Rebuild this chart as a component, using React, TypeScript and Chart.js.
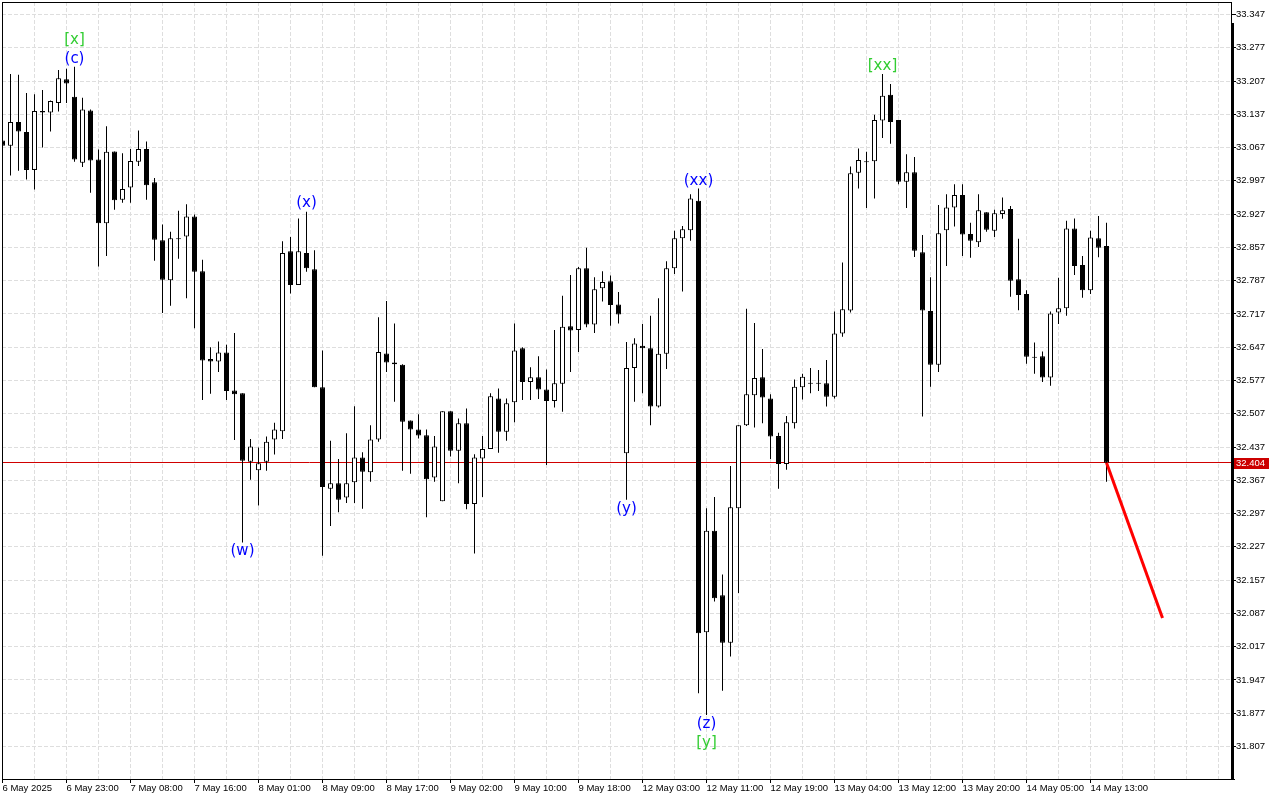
import React, { useEffect, useRef } from 'react';
import { Chart, registerables } from 'chart.js';

Chart.register(...registerables);

// ---- candle data (H1), index 0 = 6 May 2025 15:00 ----
const opens = [
  33.082, 33.071, 33.121, 33.100, 33.020, 33.144, 33.141, 33.161, 33.211, 33.174,
  33.035, 33.145, 33.042, 32.908, 33.059, 32.957, 32.983, 33.037, 33.064, 32.994,
  32.872, 32.788, 32.876, 32.880, 32.922, 32.807, 32.622, 32.617, 32.636, 32.556,
  32.550, 32.406, 32.388, 32.406, 32.453, 32.470, 32.849, 32.778, 32.845, 32.811,
  32.563, 32.349, 32.361, 32.331, 32.363, 32.415, 32.384, 32.453, 32.634, 32.611,
  32.610, 32.493, 32.474, 32.462, 32.373, 32.323, 32.512, 32.429, 32.487, 32.317,
  32.413, 32.433, 32.539, 32.469, 32.531, 32.645, 32.574, 32.584, 32.558, 32.534,
  32.570, 32.691, 32.683, 32.813, 32.695, 32.771, 32.786, 32.737, 32.424, 32.603,
  32.650, 32.645, 32.522, 32.633, 32.813, 32.876, 32.893, 32.955, 32.047, 32.261,
  32.125, 32.025, 32.308, 32.483, 32.546, 32.584, 32.539, 32.460, 32.401, 32.487,
  32.563, 32.570, 32.572, 32.571, 32.543, 32.676, 32.724, 33.014, 33.038, 33.038,
  33.124, 33.178, 33.125, 32.995, 33.015, 32.847, 32.723, 32.610, 32.893, 32.941,
  32.967, 32.885, 32.868, 32.931, 32.892, 32.927, 32.938, 32.790, 32.759, 32.627,
  32.628, 32.583, 32.720, 32.729, 32.897, 32.820, 32.767, 32.876, 32.860,
];
const highs = [
  33.089, 33.222, 33.220, 33.182, 33.179, 33.188, 33.166, 33.230, 33.233, 33.237,
  33.172, 33.147, 33.063, 33.112, 33.059, 33.055, 33.064, 33.103, 33.080, 33.003,
  32.905, 32.890, 32.934, 32.948, 32.926, 32.831, 32.647, 32.659, 32.652, 32.677,
  32.550, 32.454, 32.436, 32.459, 32.488, 32.870, 32.879, 32.918, 32.932, 32.851,
  32.640, 32.450, 32.412, 32.466, 32.523, 32.426, 32.483, 32.710, 32.744, 32.697,
  32.611, 32.493, 32.506, 32.474, 32.460, 32.512, 32.512, 32.497, 32.518, 32.422,
  32.460, 32.550, 32.560, 32.539, 32.697, 32.647, 32.605, 32.628, 32.600, 32.683,
  32.755, 32.799, 32.816, 32.856, 32.794, 32.807, 32.798, 32.763, 32.658, 32.666,
  32.696, 32.713, 32.750, 32.828, 32.892, 32.902, 32.969, 32.981, 32.308, 32.332,
  32.169, 32.397, 32.483, 32.728, 32.698, 32.643, 32.548, 32.467, 32.502, 32.579,
  32.591, 32.603, 32.599, 32.620, 32.722, 32.825, 33.027, 33.065, 33.058, 33.136,
  33.222, 33.201, 33.125, 33.053, 33.047, 32.883, 32.794, 32.946, 32.969, 32.990,
  32.990, 32.909, 32.969, 32.931, 32.936, 32.962, 32.944, 32.875, 32.767, 32.657,
  32.638, 32.722, 32.793, 32.913, 32.918, 32.839, 32.892, 32.923, 32.909,
];
const lows = [
  33.066, 33.008, 33.018, 33.000, 32.979, 33.067, 33.101, 33.143, 33.161, 33.037,
  33.026, 32.972, 32.817, 32.839, 32.936, 32.951, 32.951, 33.028, 32.957, 32.829,
  32.719, 32.734, 32.833, 32.750, 32.687, 32.536, 32.549, 32.595, 32.536, 32.452,
  32.236, 32.368, 32.314, 32.387, 32.421, 32.454, 32.760, 32.778, 32.806, 32.563,
  32.208, 32.271, 32.300, 32.319, 32.319, 32.307, 32.364, 32.448, 32.595, 32.532,
  32.387, 32.381, 32.455, 32.289, 32.364, 32.323, 32.417, 32.361, 32.306, 32.213,
  32.332, 32.433, 32.425, 32.450, 32.489, 32.536, 32.536, 32.538, 32.399, 32.520,
  32.511, 32.595, 32.637, 32.689, 32.677, 32.743, 32.692, 32.697, 32.326, 32.532,
  32.550, 32.483, 32.520, 32.601, 32.801, 32.764, 32.871, 31.919, 31.873, 32.112,
  31.924, 31.996, 32.130, 32.481, 32.478, 32.487, 32.412, 32.349, 32.389, 32.476,
  32.537, 32.550, 32.555, 32.522, 32.539, 32.669, 32.720, 32.981, 32.940, 32.960,
  33.087, 33.075, 32.990, 32.940, 32.837, 32.501, 32.564, 32.595, 32.818, 32.901,
  32.839, 32.835, 32.858, 32.890, 32.879, 32.917, 32.753, 32.725, 32.612, 32.591,
  32.574, 32.566, 32.696, 32.713, 32.799, 32.751, 32.759, 32.836, 32.364,
];
const closes = [
  33.071, 33.121, 33.101, 33.020, 33.144, 33.141, 33.165, 33.213, 33.202, 33.042,
  33.147, 33.040, 32.908, 33.058, 32.956, 32.980, 33.039, 33.064, 32.988, 32.873,
  32.789, 32.876, 32.874, 32.922, 32.806, 32.619, 32.617, 32.636, 32.555, 32.548,
  32.408, 32.438, 32.403, 32.448, 32.474, 32.845, 32.778, 32.849, 32.813, 32.563,
  32.353, 32.361, 32.326, 32.361, 32.415, 32.385, 32.453, 32.637, 32.615, 32.615,
  32.490, 32.474, 32.461, 32.369, 32.438, 32.512, 32.429, 32.487, 32.317, 32.415,
  32.433, 32.544, 32.469, 32.529, 32.640, 32.574, 32.584, 32.558, 32.534, 32.571,
  32.690, 32.682, 32.813, 32.695, 32.769, 32.784, 32.736, 32.716, 32.603, 32.655,
  32.645, 32.522, 32.633, 32.813, 32.876, 32.895, 32.960, 32.045, 32.261, 32.119,
  32.025, 32.310, 32.483, 32.548, 32.582, 32.541, 32.459, 32.401, 32.489, 32.564,
  32.585, 32.572, 32.570, 32.543, 32.676, 32.727, 33.013, 33.041, 33.036, 33.125,
  33.176, 33.121, 32.995, 33.015, 32.850, 32.724, 32.610, 32.887, 32.941, 32.967,
  32.884, 32.871, 32.935, 32.894, 32.929, 32.935, 32.787, 32.757, 32.627, 32.625,
  32.583, 32.718, 32.729, 32.897, 32.818, 32.767, 32.878, 32.856, 32.404,
];

// ---- axis labels ----
const xLabelIndex = [0, 8, 16, 24, 32, 40, 48, 56, 64, 72, 80, 88, 96, 104, 112, 120, 128, 136];
const xLabels = [
  '6 May 2025', '6 May 23:00', '7 May 08:00', '7 May 16:00', '8 May 01:00', '8 May 09:00',
  '8 May 17:00', '9 May 02:00', '9 May 10:00', '9 May 18:00', '12 May 03:00', '12 May 11:00',
  '12 May 19:00', '13 May 04:00', '13 May 12:00', '13 May 20:00', '14 May 05:00', '14 May 13:00',
];
const yTickValues = [
  31.807, 31.877, 31.947, 32.017, 32.087, 32.157, 32.227, 32.297, 32.367, 32.437, 32.507, 32.577,
  32.647, 32.717, 32.787, 32.857, 32.927, 32.997, 33.067, 33.137, 33.207, 33.277, 33.347,
];

// ---- wave labels ----
const waveText = ['[x]', '(c)', '(w)', '(x)', '(y)', '(xx)', '(z)', '[y]', '[xx]'];
const waveIndex = [9, 9, 30, 38, 78, 87, 88, 88, 110];
const wavePrice = [33.293, 33.253, 32.218, 32.950, 32.307, 32.997, 31.854, 31.814, 33.239];
const waveColor = ['#32cd32', '#0000ff', '#0000ff', '#0000ff', '#0000ff', '#0000ff', '#0000ff', '#32cd32', '#32cd32'];

// ---- forecast & last price ----
const forecastIndex = [138, 145];
const forecastPrice = [32.404, 32.077];
const lastPrice = 32.404;

const X_MIN = -0.0625;
const X_MAX = 153.6875;
const Y_MIN = 31.7385;
const Y_MAX = 33.3733;
const FONT = 'Liberation Sans';

export default function App() {
  const ref = useRef<HTMLCanvasElement>(null);

  useEffect(() => {
    const canvas = ref.current;
    if (!canvas) return;

    const idx = opens.map((_, i) => i);
    const bodies = idx.map((i) => ({ x: i, y: [opens[i], closes[i]] }));
    const wicks = idx.map((i) => ({ x: i, y: [lows[i], highs[i]] }));
    const bodyColors = idx.map((i) => (closes[i] >= opens[i] ? '#ffffff' : '#000000'));
    const forecast = forecastIndex.map((x, k) => ({ x, y: forecastPrice[k] }));

    const overlay = {
      id: 'overlay',
      beforeDatasetsDraw(chart: any) {
        const { ctx, chartArea: a, scales } = chart;
        const py = Math.round(scales.y.getPixelForValue(lastPrice) - 0.5) + 0.5;
        ctx.save();
        ctx.strokeStyle = '#d00000';
        ctx.lineWidth = 1;
        ctx.beginPath();
        ctx.moveTo(a.left, py);
        ctx.lineTo(a.right, py);
        ctx.stroke();
        ctx.restore();
      },
      afterDraw(chart: any) {
        const { ctx, chartArea: a, scales } = chart;
        const xs = scales.x;
        const ys = scales.y;
        ctx.save();
        // frame
        ctx.fillStyle = '#000000';
        ctx.fillRect(a.left, a.top, 1, a.bottom - a.top);
        ctx.fillRect(a.left, a.top, a.right - a.left, 1);
        ctx.fillRect(a.left, a.bottom, a.right - a.left + 3, 1);
        ctx.fillRect(a.right - 1, a.top, 1, a.bottom - a.top);
        ctx.fillRect(a.right - 1, a.top + 21, 3, a.bottom - a.top - 21);

        // wave labels
        ctx.font = '15px "DejaVu Sans"';
        ctx.textAlign = 'center';
        ctx.textBaseline = 'middle';
        waveText.forEach((t, k) => {
          ctx.fillStyle = waveColor[k];
          ctx.fillText(t, xs.getPixelForValue(waveIndex[k]), ys.getPixelForValue(wavePrice[k]));
        });

        // current price label
        const py = Math.round(ys.getPixelForValue(lastPrice));
        ctx.fillStyle = '#cc0000';
        ctx.fillRect(a.right + 2, py - 5, 35, 11);
        ctx.fillStyle = '#ffffff';
        ctx.font = `9.5px "${FONT}"`;
        ctx.textAlign = 'left';
        ctx.textBaseline = 'middle';
        ctx.fillText(lastPrice.toFixed(3), a.right + 4, py + 0.5);
        ctx.restore();
      },
    };

    const chart = new Chart(canvas, {
      type: 'bar',
      data: {
        datasets: [
          {
            type: 'line',
            data: forecast,
            borderColor: '#ff0000',
            borderWidth: 3,
            pointRadius: 0,
            fill: false,
            clip: 0,
          } as any,
          {
            type: 'bar',
            data: bodies,
            backgroundColor: bodyColors,
            borderColor: '#000000',
            borderWidth: 1,
            borderSkipped: false,
            barThickness: 5,
            grouped: false,
            inflateAmount: 0,
            clip: 0,
          } as any,
          {
            type: 'bar',
            data: wicks,
            backgroundColor: '#000000',
            borderWidth: 0,
            barThickness: 1,
            grouped: false,
            inflateAmount: 0,
            clip: 0,
          } as any,
        ],
      },
      options: {
        animation: false,
        responsive: false,
        devicePixelRatio: 1,
        events: [],
        layout: { padding: { left: 2, top: 2, right: 0, bottom: 0 } },
        plugins: { legend: { display: false }, tooltip: { enabled: false } },
        scales: {
          x: {
            type: 'linear',
            min: X_MIN,
            max: X_MAX,
            offset: false,
            grid: {
              offset: false,
              color: '#dedede',
              lineWidth: 1,
              tickLength: 4,
              tickColor: (c: any) =>
                c.tick && xLabelIndex.includes(c.tick.value) ? '#000000' : 'rgba(0,0,0,0)',
            },
            border: { display: false, dash: [4, 2] },
            ticks: {
              autoSkip: false,
              maxRotation: 0,
              minRotation: 0,
              align: 'start',
              padding: 0,
              color: '#000000',
              font: { family: FONT, size: 9.5 },
              callback: (v: any) => {
                const k = xLabelIndex.indexOf(Number(v));
                return k >= 0 ? xLabels[k] : '';
              },
            },
            afterBuildTicks: (s: any) => {
              const t = [];
              for (let i = 0; i <= 152; i += 4) t.push({ value: i });
              s.ticks = t;
            },
            afterFit: (s: any) => {
              s.height = 21;
              s.paddingLeft = 0;
              s.paddingRight = 0;
            },
          } as any,
          y: {
            type: 'linear',
            position: 'right',
            min: Y_MIN,
            max: Y_MAX,
            grid: {
              color: '#dedede',
              lineWidth: 1,
              tickLength: 4,
              tickColor: '#000000',
            },
            border: { display: false, dash: [4, 2] },
            ticks: {
              padding: 0,
              color: '#000000',
              font: { family: FONT, size: 9.5 },
              callback: (v: any) => Number(v).toFixed(3),
            },
            afterBuildTicks: (s: any) => {
              s.ticks = yTickValues.map((value) => ({ value }));
            },
            afterFit: (s: any) => {
              s.width = 48;
              s.paddingTop = 0;
              s.paddingBottom = 0;
            },
          } as any,
        },
      },
      plugins: [overlay],
    } as any);

    return () => chart.destroy();
  }, []);

  return (
    <div style={{ position: 'fixed', left: 0, top: 0, width: 1280, height: 800, background: '#ffffff' }}>
      <canvas ref={ref} width={1280} height={800} style={{ display: 'block' }} />
    </div>
  );
}
